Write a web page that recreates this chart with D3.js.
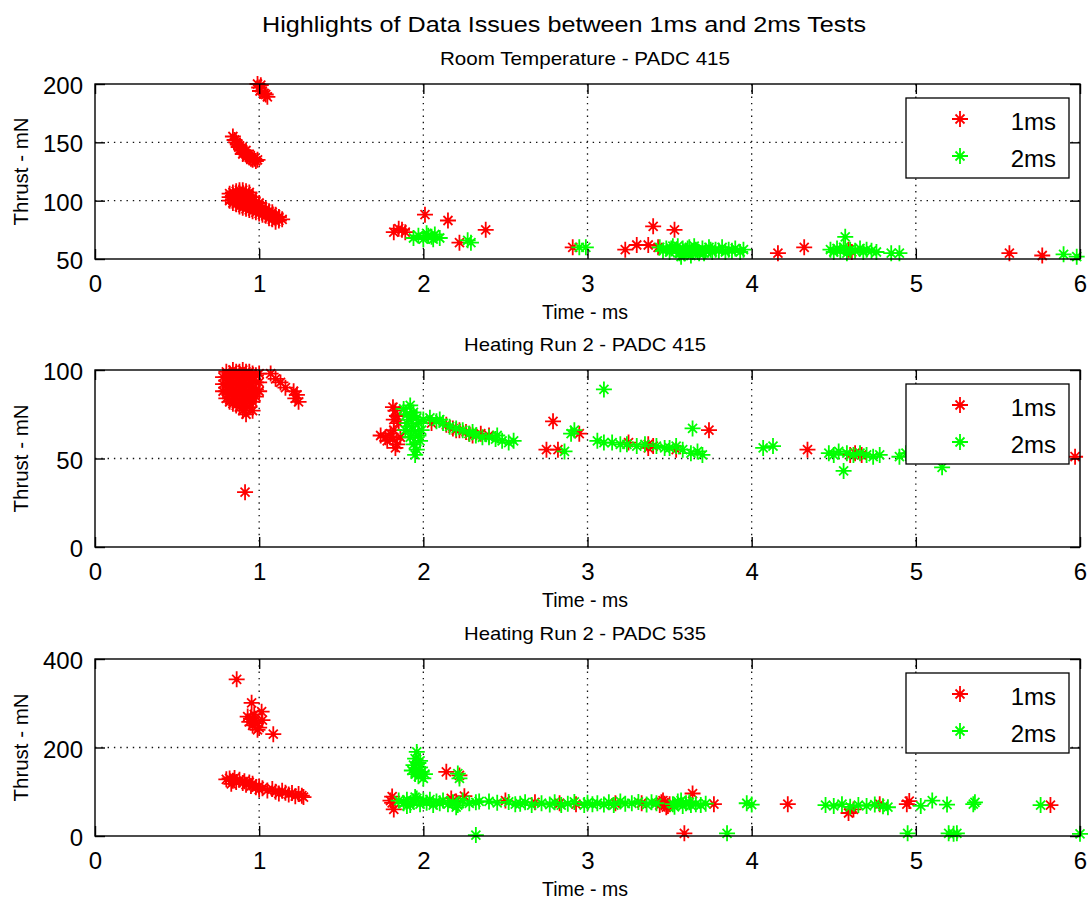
<!DOCTYPE html>
<html>
<head>
<meta charset="utf-8">
<script src="https://cdn.jsdelivr.net/npm/d3@7"></script>
<style>
  html, body { margin: 0; padding: 0; background: #fff; }
  text { font-family: "Liberation Sans", Arial, sans-serif; fill: #000; }
</style>
</head>
<body>
<script>
// ---------------- DATA ----------------
const mainTitle = "Highlights of Data Issues between 1ms and 2ms Tests";
const panelTitles = ["Room Temperature - PADC 415", "Heating Run 2 - PADC 415", "Heating Run 2 - PADC 535"];
const xLabel = "Time - ms";
const yLabel = "Thrust - mN";
const seriesNames = ["1ms", "2ms"];
const xTicks = [0, 1, 2, 3, 4, 5, 6];
const yDomains = [[50, 200], [0, 100], [0, 400]];
const yTicks = [[50, 100, 150, 200], [0, 50, 100], [0, 200, 400]];

// Room Temperature - PADC 415, 1ms  [time ms, thrust mN]
const rt_1ms = [
  [0.99,200],[1.0,197],[1.01,199],[1.005,194],[1.04,191],[1.05,189],[1.03,192],
  [0.84,155],[0.85,152],[0.86,150],[0.87,148],[0.875,146],[0.88,147],[0.89,144],[0.9,143],[0.905,141],
  [0.91,142],[0.92,140],[0.925,138],[0.93,139],[0.94,137],[0.95,136],[0.96,135],[0.97,136],[0.98,134],
  [0.99,135],[0.9,140],[0.92,143],
  [0.82,100],[0.82,103],[0.82,106],[0.84,98],[0.84,101],[0.84,104],[0.84,107],
  [0.86,97],[0.86,100],[0.86,103],[0.86,106],[0.86,108],
  [0.88,95],[0.88,98],[0.88,101],[0.88,104],[0.88,107],[0.88,109],
  [0.9,94],[0.9,97],[0.9,100],[0.9,103],[0.9,106],[0.9,109],
  [0.92,93],[0.92,96],[0.92,99],[0.92,102],[0.92,105],[0.92,108],
  [0.94,92],[0.94,95],[0.94,98],[0.94,101],[0.94,104],[0.94,107],
  [0.96,91],[0.96,94],[0.96,97],[0.96,100],[0.96,103],
  [0.98,90],[0.98,93],[0.98,96],[0.98,99],[1.0,89],[1.0,92],[1.0,95],[1.0,98],
  [1.02,88],[1.02,91],[1.02,94],[1.04,87],[1.04,90],[1.04,93],[1.06,85],[1.06,88],[1.06,91],
  [1.08,84],[1.08,87],[1.08,90],[1.1,82],[1.1,85],[1.1,88],[1.12,83],[1.12,86],[1.14,84],
  [1.82,73],[1.85,76],[1.87,75],[1.89,73],[2.01,88],[2.15,83],[2.22,64],[2.38,75],[2.91,60],
  [3.23,58],[3.30,62],[3.37,62],[3.40,78],[3.43,60],[3.53,75],[4.16,55],[4.32,60],[4.59,58],
  [4.61,56],[5.57,55],[5.77,53]
];
// Room Temperature - PADC 415, 2ms
const rt_2ms = [
  [1.94,68],[1.97,70],[2.0,67],[2.03,70],[2.05,69],[2.07,71],[2.06,67],[2.1,68],[2.02,72],
  [2.29,64],[2.27,66],[2.95,60],[2.99,60],
  [3.44,60],[3.46,57],[3.48,59],[3.5,56],[3.52,61],[3.54,58],[3.56,55],[3.58,59],[3.6,57],[3.62,60],
  [3.64,56],[3.66,58],[3.68,55],[3.7,59],[3.72,57],[3.74,60],[3.76,56],[3.78,58],[3.8,57],[3.82,60],
  [3.84,56],[3.86,58],[3.88,57],[3.9,59],[3.93,56],[3.95,58],[3.57,52],[3.63,53],
  [3.51,59],[3.55,61],[3.59,55],[3.61,59],[3.65,61],[3.67,56],[3.71,55],[3.75,58],
  [4.48,58],[4.5,56],[4.52,59],[4.54,57],[4.56,60],[4.57,69],[4.58,55],[4.6,58],[4.63,57],[4.66,59],
  [4.68,56],[4.7,58],[4.73,57],[4.76,56],[4.85,55],[4.9,55],[5.9,54],[5.98,52]
];
// Heating Run 2 - PADC 415, 1ms
const h415_1ms = [
  [0.78,88],[0.78,92],[0.78,96],[0.8,84],[0.8,88],[0.8,92],[0.8,96],[0.8,99],
  [0.82,82],[0.82,86],[0.82,90],[0.82,94],[0.82,98],
  [0.84,81],[0.84,85],[0.84,89],[0.84,93],[0.84,97],[0.84,100],
  [0.86,80],[0.86,84],[0.86,88],[0.86,92],[0.86,96],[0.86,99],
  [0.88,79],[0.88,83],[0.88,87],[0.88,91],[0.88,95],[0.88,99],
  [0.9,77],[0.9,81],[0.9,85],[0.9,89],[0.9,93],[0.9,97],[0.9,100],
  [0.92,75],[0.92,80],[0.92,84],[0.92,88],[0.92,92],[0.92,96],[0.92,99],
  [0.94,79],[0.94,83],[0.94,87],[0.94,91],[0.94,95],[0.94,99],
  [0.96,77],[0.96,82],[0.96,86],[0.96,90],[0.96,94],[0.96,98],
  [0.98,85],[0.98,89],[0.98,93],[0.98,97],[1.0,88],[1.0,93],[1.0,98],
  [1.07,98],[1.1,95],[1.13,93],[1.16,90],[1.21,88],[1.23,86],[1.24,82],[1.22,84],
  [0.914,31],
  [1.815,79],[1.83,77],[1.84,74],[1.82,72],[1.85,70],[1.74,63],[1.77,62],[1.8,64],[1.815,61],
  [1.84,58],[1.83,56],[1.86,62],[1.78,60],[1.82,66],
  [2.05,70],[2.14,69],[2.18,67],[2.22,66],[2.26,65],[2.28,64],[2.3,63],[2.2,66],[2.35,64],[2.4,63],
  [2.79,71],[2.75,55],[2.82,55],[2.95,64],[3.25,59],[3.37,58],[3.37,56],[3.4,57],[3.54,55],
  [3.74,66],[4.34,55],[4.6,52],[4.63,53],[4.67,52],[5.97,51]
];
// Heating Run 2 - PADC 415, 2ms
const h415_2ms = [
  [1.88,78],[1.9,75],[1.92,80],[1.94,76],[1.96,73],[1.9,70],[1.93,68],[1.95,65],[1.92,62],[1.94,58],
  [1.96,55],[1.95,52],[1.98,60],[1.97,70],[2.0,72],[1.89,66],[1.91,72],[1.99,66],[1.93,74],[1.97,63],
  [2.04,73],[2.08,71],[2.12,70],[2.16,68],[2.2,67],[2.24,66],[2.28,64],[2.32,63],[2.36,62],[2.4,62],
  [2.44,61],[2.48,60],[2.52,59],[2.55,60],[2.1,72],[2.3,65],[2.45,63],
  [2.86,54],[2.90,64],[2.92,66],[3.10,89],[3.06,60],[3.1,59],[3.15,59],[3.2,58],[3.24,58],[3.3,57],
  [3.35,58],[3.42,57],[3.47,56],[3.5,56],[3.54,57],[3.58,55],[3.63,53],[3.67,54],[3.7,52],[3.64,67],
  [4.07,56],[4.13,57],[4.47,53],[4.5,52],[4.53,54],[4.56,43],[4.58,53],[4.62,52],[4.66,53],[4.7,52],
  [4.74,51],[4.78,52],[4.90,51],[4.94,53],[4.99,54],[5.16,45]
];
// Heating Run 2 - PADC 535, 1ms
const h535_1ms = [
  [0.863,354],[0.954,301],[1.015,281],[0.93,270],[0.95,265],[0.97,260],[0.94,258],[0.96,250],
  [0.98,255],[1.0,245],[0.99,240],[1.086,230],[1.02,262],[0.97,275],
  [0.8,128],[0.82,130],[0.84,125],[0.85,131],[0.86,122],[0.88,127],[0.9,120],[0.91,124],[0.92,116],
  [0.94,121],[0.95,113],[0.96,118],[0.98,110],[1.0,112],[1.0,105],[1.02,108],[1.05,103],[1.08,106],
  [1.1,100],[1.12,96],[1.14,102],[1.16,98],[1.18,94],[1.2,97],[1.22,90],[1.24,95],[1.26,91],
  [1.27,88],[0.83,118],
  [1.81,89],[1.81,75],[1.82,60],[1.8,80],[2.14,145],[2.22,137],[2.17,85],[2.2,78],[2.25,90],
  [2.5,80],[2.68,76],[2.83,74],[2.93,72],[3.17,74],[3.33,74],[3.45,76],[3.46,80],[3.48,65],[3.5,72],
  [3.44,70],[3.47,73],[3.49,68],
  [3.64,96],[3.77,72],[3.59,6],[4.22,72],[4.59,52],[4.62,60],[4.78,72],[4.945,72],[4.96,79],[5.82,70]
];
// Heating Run 2 - PADC 535, 2ms
const h535_2ms = [
  [1.96,190],[1.95,175],[1.97,165],[1.94,160],[1.98,155],[1.96,150],[1.99,145],[1.95,140],[1.97,135],
  [2.0,130],[1.93,148],[2.01,140],[1.98,170],[2.21,141],[2.22,130],
  [1.85,80],[1.88,74],[1.9,82],[1.92,70],[1.94,78],[1.96,85],[1.98,72],[2.0,80],[2.02,75],[2.04,82],
  [2.06,70],[2.08,78],[2.1,74],[2.12,80],[2.15,72],[2.18,76],[2.21,70],[2.24,80],[2.28,74],[2.32,76],
  [2.34,78],[2.2,65],[1.9,68],[1.95,88],
  [2.56,72],[2.77,71],[2.98,70],[3.06,74],[3.13,76],[3.27,74],[3.39,76],[3.52,72],[3.55,78],[3.58,68],
  [3.6,74],[3.63,70],[3.69,70],[2.4,78],[2.62,76],[2.72,74],[2.88,73],[3.2,78],[3.1,71],[3.0,75],
  [2.45,75],[2.52,77],[2.59,73],[2.66,70],[2.8,76],[2.84,70],[2.92,77],[3.03,72],[3.16,70],[3.23,73],
  [3.31,77],[3.36,71],[3.42,74],[3.53,66],[3.57,80],[3.62,76],[3.66,72],[3.72,73],
  [3.97,74],[4.0,71],[4.45,70],[4.5,68],[4.55,72],[4.6,66],[4.65,70],[4.7,68],[4.75,71],[4.8,67],
  [4.83,65],[5.03,68],[5.10,80],[5.19,71],[5.35,72],[5.36,76],[5.76,70],
  [2.32,2],[3.85,6],[4.95,6],[5.2,6],[5.23,5],[5.25,6],[6.0,5]
];
const panelSeries = [[rt_1ms, rt_2ms], [h415_1ms, h415_2ms], [h535_1ms, h535_2ms]];
const seriesColors = ["#ff0000", "#00ff00"];

// ---------------- LAYOUT ----------------
const W = 1089, H = 903;
const left = 95, right = 1080;
const tops = [84, 370, 659], bottoms = [259, 547, 836];
const FONT = '"Liberation Sans", Arial, sans-serif';
const starPath = "M-8,0H8M0,-8V8M-4.5,-4.5L4.5,4.5M-4.5,4.5L4.5,-4.5";

const svg = d3.select("body").append("svg")
  .attr("width", W).attr("height", H)
  .style("display", "block");
svg.append("rect").attr("width", W).attr("height", H).attr("fill", "#fff");

svg.append("text")
  .attr("x", 564).attr("y", 32)
  .attr("text-anchor", "middle")
  .attr("font-size", 22)
  .attr("textLength", 604).attr("lengthAdjust", "spacingAndGlyphs")
  .text(mainTitle);

const x = d3.scaleLinear().domain([0, 6]).range([left, right]);

function drawStar(g, cx, cy, color) {
  g.append("path")
    .attr("transform", `translate(${cx},${cy})`)
    .attr("d", starPath)
    .attr("stroke", color).attr("stroke-width", 1.8).attr("fill", "none");
  g.append("circle").attr("cx", cx).attr("cy", cy).attr("r", 2.2).attr("fill", color);
}

panelSeries.forEach((series, i) => {
  const top = tops[i], bottom = bottoms[i];
  const y = d3.scaleLinear().domain(yDomains[i]).range([bottom, top]);
  const g = svg.append("g");

  // grid
  g.append("g").selectAll("line").data(xTicks.filter(t => t > 0 && t < 6)).join("line")
    .attr("x1", d => x(d)).attr("x2", d => x(d)).attr("y1", top).attr("y2", bottom)
    .attr("stroke", "#111").attr("stroke-width", 1.3).attr("stroke-dasharray", "1.4,4.9");
  const yDom = yDomains[i];
  g.append("g").selectAll("line").data(yTicks[i].filter(t => t > yDom[0] && t < yDom[1])).join("line")
    .attr("x1", left).attr("x2", right).attr("y1", d => y(d)).attr("y2", d => y(d))
    .attr("stroke", "#111").attr("stroke-width", 1.3).attr("stroke-dasharray", "1.4,4.9");

  // data
  series.forEach((pts, s) => {
    const sg = g.append("g");
    pts.forEach(p => drawStar(sg, x(p[0]), y(p[1]), seriesColors[s]));
  });

  // axes (ticks inside)
  const axB = d3.axisBottom(x).tickValues(xTicks).tickSizeInner(-10).tickSizeOuter(0).tickPadding(16).tickFormat(d3.format("d"));
  const axT = d3.axisTop(x).tickValues(xTicks).tickSizeInner(-10).tickSizeOuter(0).tickFormat("");
  const axL = d3.axisLeft(y).tickValues(yTicks[i]).tickSizeInner(-10).tickSizeOuter(0).tickPadding(12).tickFormat(d3.format("d"));
  const axR = d3.axisRight(y).tickValues(yTicks[i]).tickSizeInner(-10).tickSizeOuter(0).tickFormat("");
  const gb = g.append("g").attr("transform", `translate(0,${bottom})`).call(axB);
  const gt = g.append("g").attr("transform", `translate(0,${top})`).call(axT);
  const gl = g.append("g").attr("transform", `translate(${left},0)`).call(axL);
  const gr = g.append("g").attr("transform", `translate(${right},0)`).call(axR);
  [gb, gt, gl, gr].forEach(a => {
    a.select(".domain").remove();
    a.selectAll(".tick line").attr("stroke", "#000").attr("stroke-width", 1.4);
    a.selectAll("text").attr("font-family", FONT).attr("font-size", 24).attr("fill", "#000");
  });
  gl.selectAll("text").attr("dy", "0.4em");

  // box
  g.append("rect").attr("x", left).attr("y", top).attr("width", right - left).attr("height", bottom - top)
    .attr("fill", "none").attr("stroke", "#000").attr("stroke-width", 1.4);

  // subplot title
  g.append("text").attr("x", 585).attr("y", top - 19)
    .attr("text-anchor", "middle").attr("font-size", 19)
    .attr("textLength", i === 0 ? 290 : 242).attr("lengthAdjust", "spacingAndGlyphs")
    .text(panelTitles[i]);

  // axis labels
  g.append("text").attr("x", 585).attr("y", bottom + 60)
    .attr("text-anchor", "middle").attr("font-size", 20)
    .attr("textLength", 86).attr("lengthAdjust", "spacingAndGlyphs")
    .text(xLabel);
  g.append("text")
    .attr("transform", `translate(28,${(top + bottom) / 2}) rotate(-90)`)
    .attr("text-anchor", "middle").attr("font-size", 20)
    .attr("textLength", 108).attr("lengthAdjust", "spacingAndGlyphs")
    .text(yLabel);

  // legend
  const lg = g.append("g");
  lg.append("rect").attr("x", 906).attr("y", top + 14).attr("width", 163).attr("height", 80)
    .attr("fill", "#fff").attr("stroke", "#000").attr("stroke-width", 1.3);
  seriesNames.forEach((name, s) => {
    const ly = top + 35 + s * 37;
    drawStar(lg, 960, ly, seriesColors[s]);
    lg.append("text").attr("x", 1056).attr("y", ly + 11)
      .attr("text-anchor", "end").attr("font-size", 24).text(name);
  });
});
</script>
</body>
</html>
